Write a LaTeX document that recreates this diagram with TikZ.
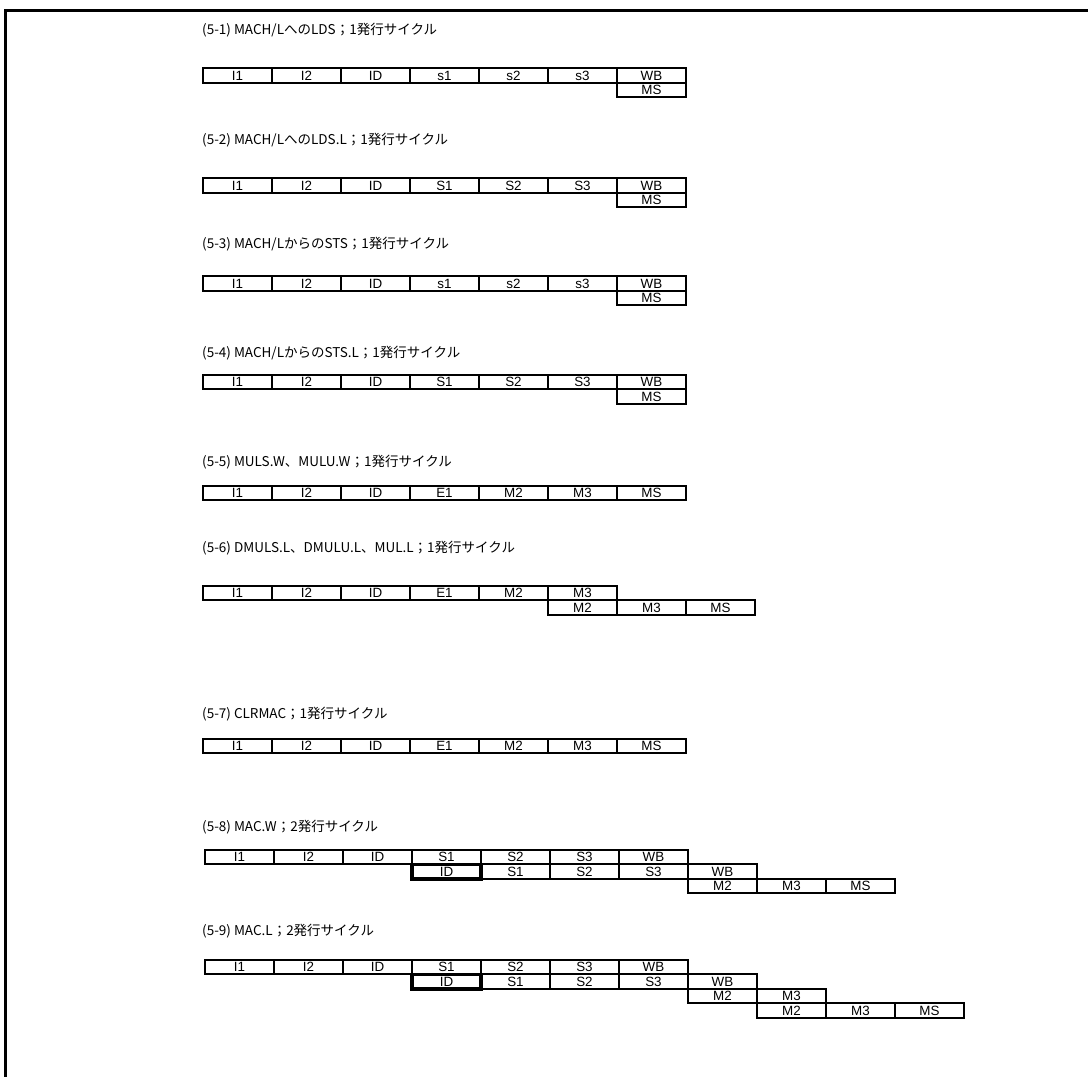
\documentclass[tikz,border=0pt]{standalone}
\usepackage{fontspec}
\setmainfont{Liberation Sans}
\newfontfamily\jp{Noto Sans CJK JP}
\tikzset{
  cell/.style={draw, line width=1.8pt, rectangle, minimum width=69pt, minimum height=14.5pt,
    inner sep=0pt, text height=9.6pt, text depth=0pt, font=\fontsize{13.4}{13.4}\selectfont},
  thickcell/.style={cell, line width=3.5pt},
  ttl/.style={anchor=west, inner sep=0pt, font=\jp\fontsize{13.5}{14}\selectfont},
  frameline/.style={line width=3pt}
}
\newcommand{\cellrow}[4]{%
  \foreach \t [count=\i] in {#4} {
    \node[cell] (#1-\i) at ({#2+69*(\i-0.5)},#3) {\t};
  }}
\begin{document}
\begin{tikzpicture}[x=1pt,y=-1pt]
\useasboundingbox (0,0) rectangle (1088,1077);
% frame
\coordinate (fA) at (1088,10);
\coordinate (fB) at (5,10);
\coordinate (fC) at (5,1077);
\draw[frameline] (fA) -- (fB) -- (fC);

% (5-1)
\node[ttl] (t1) at (202,30) {(5-1) MACH/LへのLDS；1発行サイクル};
\cellrow{a}{203}{75.5}{I1,I2,ID,s1,s2,s3,WB}
\node[cell] (a-ms) at ({203+69*6.5},90) {MS};

% (5-2)
\node[ttl] (t2) at (202,140) {(5-2) MACH/LへのLDS.L；1発行サイクル};
\cellrow{b}{203}{185.5}{I1,I2,ID,S1,S2,S3,WB}
\node[cell] (b-ms) at ({203+69*6.5},200) {MS};

% (5-3)
\node[ttl] (t3) at (202,244) {(5-3) MACH/LからのSTS；1発行サイクル};
\cellrow{c}{203}{283.5}{I1,I2,ID,s1,s2,s3,WB}
\node[cell] (c-ms) at ({203+69*6.5},298) {MS};

% (5-4)
\node[ttl] (t4) at (202,353) {(5-4) MACH/LからのSTS.L；1発行サイクル};
\cellrow{d}{203}{382}{I1,I2,ID,S1,S2,S3,WB}
\node[cell] (d-ms) at ({203+69*6.5},396.5) {MS};

% (5-5)
\node[ttl] (t5) at (202,462) {(5-5) MULS.W、MULU.W；1発行サイクル};
\cellrow{e}{203}{493}{I1,I2,ID,E1,M2,M3,MS}

% (5-6)
\node[ttl] (t6) at (202,548) {(5-6) DMULS.L、DMULU.L、MUL.L；1発行サイクル};
\cellrow{f}{203}{593}{I1,I2,ID,E1,M2,M3}
\cellrow{g}{548}{607.5}{M2,M3,MS}

% (5-7)
\node[ttl] (t7) at (202,714) {(5-7) CLRMAC；1発行サイクル};
\cellrow{h}{203}{746}{I1,I2,ID,E1,M2,M3,MS}

% (5-8)
\node[ttl] (t8) at (202,827) {(5-8) MAC.W；2発行サイクル};
\cellrow{i}{205}{857}{I1,I2,ID,S1,S2,S3,WB}
\cellrow{j}{481}{871.5}{S1,S2,S3,WB}
\node[thickcell] (j-id) at ({205+69*3.5},871.5) {ID};
\cellrow{k}{688}{886}{M2,M3,MS}

% (5-9)
\node[ttl] (t9) at (202,931) {(5-9) MAC.L；2発行サイクル};
\cellrow{l}{205}{967}{I1,I2,ID,S1,S2,S3,WB}
\cellrow{m}{481}{981.5}{S1,S2,S3,WB}
\node[thickcell] (m-id) at ({205+69*3.5},981.5) {ID};
\cellrow{n}{688}{996}{M2,M3}
\cellrow{o}{757}{1010.5}{M2,M3,MS}
\end{tikzpicture}
\end{document}
